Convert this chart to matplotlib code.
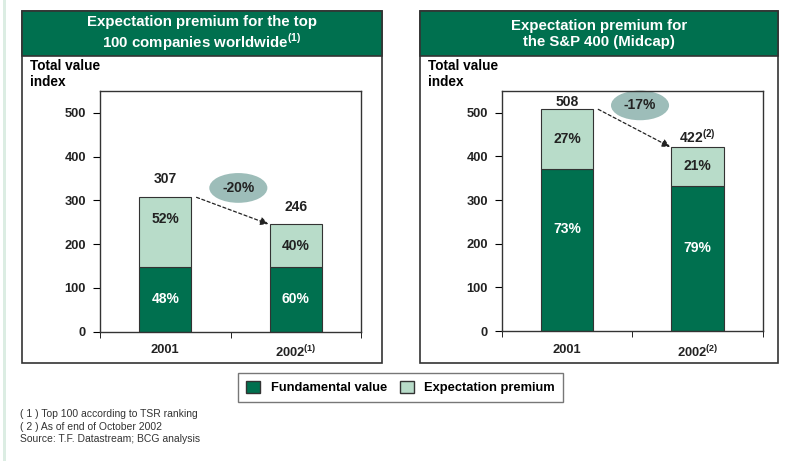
import matplotlib.pyplot as plt
from matplotlib.patches import Rectangle, Ellipse, Patch

plt.rcParams["font.family"] = ["Liberation Sans", "DejaVu Sans"]
plt.rcParams["mathtext.fontset"] = "custom"
plt.rcParams["mathtext.rm"] = "Liberation Sans"
plt.rcParams["mathtext.bf"] = "Liberation Sans:bold"

# data
years_top100 = ["2001", r"2002$^{\mathbf{(1)}}$"]
total_top100 = [307, 246]
fund_pct_top100 = [48, 60]
change_top100 = "-20%"

years_midcap = ["2001", r"2002$^{\mathbf{(2)}}$"]
total_midcap = [508, 422]
total_labels_midcap = ["508", r"422$^{\mathbf{(2)}}$"]
fund_pct_midcap = [73, 79]
change_midcap = "-17%"

DARK = "#00704f"
LIGHT = "#b8dcc9"
OVAL = "#9dbdb9"
EDGE = "#333333"

W, H = 793, 461
fig = plt.figure(figsize=(W / 100, H / 100), dpi=100)


def fx(px):
    return px / W


def fy(py):
    return 1 - py / H


# pale strip on the left edge
fig.patches.append(Rectangle((fx(3), 0), fx(3), 1, transform=fig.transFigure,
                             facecolor="#dcede3", edgecolor="none", zorder=-5))


def panel(x0, x1, title, ax_box, years, totals, tot_labels, pct, change,
          tot_off, pct_frac):
    # outer frame and green header
    fig.patches.append(Rectangle((fx(x0), fy(363)), fx(x1 - x0), fy(11) - fy(363),
                                 transform=fig.transFigure, facecolor="white",
                                 edgecolor=EDGE, lw=1.2, zorder=-5))
    fig.patches.append(Rectangle((fx(x0), fy(56)), fx(x1 - x0), fy(11) - fy(56),
                                 transform=fig.transFigure, facecolor=DARK,
                                 edgecolor=EDGE, lw=1.2, zorder=-4))
    fig.text(fx((x0 + x1) / 2), fy(34), title, ha="center", va="center",
             color="white", fontsize=10.8, fontweight="bold", linespacing=1.1)
    fig.text(fx(x0 + 8), fy(74), "Total value\nindex", ha="left", va="center",
             fontsize=9.8, fontweight="bold", linespacing=1.25)

    l, r, t, b = ax_box
    ax = fig.add_axes([fx(l), fy(b), fx(r - l), fy(t) - fy(b)])
    xs = [0, 1]
    fund = [tot * p / 100 for tot, p in zip(totals, pct)]
    prem = [tot - f for tot, f in zip(totals, fund)]
    ax.bar(xs, fund, width=0.4, color=DARK, edgecolor=EDGE, lw=0.8)
    ax.bar(xs, prem, bottom=fund, width=0.4, color=LIGHT, edgecolor=EDGE, lw=0.8)

    for i in xs:
        fr_d, fr_l = pct_frac[i]
        ax.text(i, fund[i] * fr_d, f"{pct[i]}%", ha="center", va="center",
                color="white", fontsize=10, fontweight="bold")
        ax.text(i, fund[i] + prem[i] * fr_l, f"{100 - pct[i]}%", ha="center",
                va="center", color="#222222", fontsize=10, fontweight="bold")
        ax.text(i, totals[i] + tot_off[i], tot_labels[i], ha="center", va="center",
                color="#222222", fontsize=10, fontweight="bold")

    # dashed arrow between the bar tops and the change oval
    ax.annotate("", xy=(0.79, totals[1]), xytext=(0.24, totals[0]),
                arrowprops=dict(arrowstyle="-|>", linestyle=(0, (2.5, 2)), lw=0.9,
                                color="#222222", mutation_scale=12,
                                shrinkA=0, shrinkB=0))
    cy = (totals[0] + totals[1]) / 2 + 52
    ax.add_patch(Ellipse((0.56, cy), 0.445, 68, facecolor=OVAL,
                         edgecolor="none", clip_on=False))
    ax.text(0.56, cy, change, ha="center", va="center", fontsize=10,
            fontweight="bold", color="#222222")

    ax.set_xlim(-0.5, 1.5)
    ax.set_ylim(0, 550)
    ax.set_yticks(range(0, 501, 100))
    ax.set_xticks(xs)
    ax.set_xticklabels(years)
    ax.set_xticks([-0.5, 0.5, 1.5], minor=True)
    ax.tick_params(axis="x", which="major", length=0, pad=9)
    ax.tick_params(axis="x", which="minor", length=4, direction="out")
    ax.tick_params(axis="y", length=5, pad=5, direction="out")
    for lab in ax.get_xticklabels() + ax.get_yticklabels():
        lab.set_fontweight("bold")
        lab.set_fontsize(9.3)
        lab.set_color("#222222")
    for s in ax.spines.values():
        s.set_color(EDGE)
        s.set_linewidth(1)
    return ax


panel(22, 382,
      "Expectation premium for the top\n100 companies worldwide$^{\\mathbf{(1)}}$",
      (100, 361, 91, 331.7), years_top100, total_top100,
      [str(v) for v in total_top100], fund_pct_top100, change_top100,
      [43, 40], [(0.5, 0.69), (0.5, 0.5)])

panel(420, 778,
      "Expectation premium for\nthe S&P 400 (Midcap)",
      (501.7, 762.7, 91, 331), years_midcap, total_midcap,
      total_labels_midcap, fund_pct_midcap, change_midcap,
      [17, 23], [(0.63, 0.5), (0.57, 0.5)])

handles = [Patch(facecolor=DARK, edgecolor=EDGE, label="Fundamental value"),
           Patch(facecolor=LIGHT, edgecolor=EDGE, label="Expectation premium")]
leg = fig.legend(handles=handles, ncol=2, loc="center",
                 bbox_to_anchor=(fx(400.5), fy(387.5)),
                 prop={"weight": "bold", "size": 9.3}, fancybox=False,
                 handlelength=1.1, handleheight=1.1, handletextpad=0.8,
                 columnspacing=1.0, borderpad=0.6, borderaxespad=0)
leg.get_frame().set_edgecolor("#555555")
leg.get_frame().set_linewidth(1)

fig.text(fx(20), fy(414), "( 1 ) Top 100 according to TSR ranking", fontsize=7.5,
         va="center", color="#333333")
fig.text(fx(20), fy(427), "( 2 ) As of end of October 2002", fontsize=7.5,
         va="center", color="#333333")
fig.text(fx(20), fy(439), "Source: T.F. Datastream; BCG analysis", fontsize=7.5,
         va="center", color="#333333")

fig.savefig("out.png", dpi=100)
